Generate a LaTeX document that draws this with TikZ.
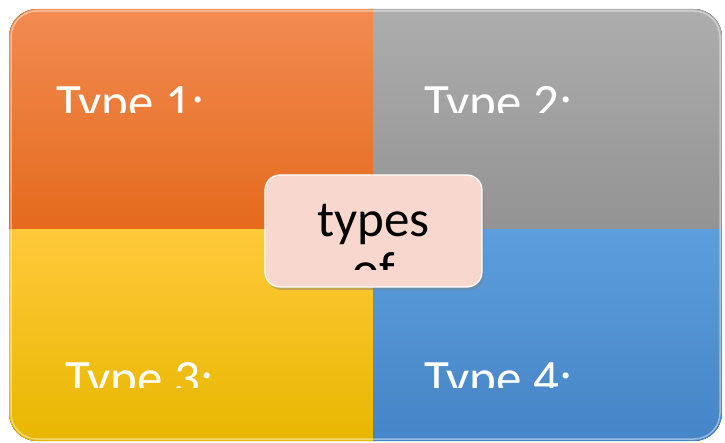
\documentclass[tikz,border=0pt]{standalone}
\usepackage{fontspec}
\setmainfont{Carlito}
\usetikzlibrary{shadows}

\definecolor{orangetop}{HTML}{F28B52}
\definecolor{orangebot}{HTML}{E46A1C}
\definecolor{greytop}{HTML}{ADADAD}
\definecolor{greybot}{HTML}{939393}
\definecolor{yellowtop}{HTML}{FFC93A}
\definecolor{yellowbot}{HTML}{E8B700}
\definecolor{bluetop}{HTML}{5C9EDD}
\definecolor{bluebot}{HTML}{4584C6}
\definecolor{centrefill}{HTML}{F8D8CE}

\begin{document}
\begin{tikzpicture}[x=1pt,y=-1pt,
  typelabel/.style={anchor=base west,inner sep=0pt,text=white,
    font=\fontsize{51}{61}\selectfont},
  centrelabel/.style={anchor=base,inner sep=0pt,text=black,
    font=\fontsize{51}{61}\selectfont},
  centrebox/.style={draw=white,line width=1.2pt,fill=centrefill,
    rounded corners=15pt,minimum width=217pt,minimum height=112pt,
    drop shadow={shadow xshift=2pt,shadow yshift=-3pt,opacity=.45}}]

\useasboundingbox (0,0) rectangle (725,443);

% quadrants
\begin{scope}
  \clip[rounded corners=28pt] (9,9) rectangle (722,441);
  \fill[top color=orangetop,bottom color=orangebot] (9,9) rectangle (373,230);
  \fill[top color=greytop,bottom color=greybot] (373,9) rectangle (722,230);
  \fill[top color=yellowtop,bottom color=yellowbot] (9,230) rectangle (373,441);
  \fill[top color=bluetop,bottom color=bluebot] (373,230) rectangle (722,441);
\end{scope}
\draw[white,opacity=.45,line width=1.5pt,rounded corners=26pt] (11,11) rectangle (720,439);

% labels
\begin{scope}
  \clip (9,9) rectangle (722,112.5);
  \node[typelabel] (type1) at (56,119.5) {Type 1:};
  \node[typelabel] (type2) at (424,119.5) {Type 2:};
\end{scope}
\begin{scope}
  \clip (9,230) rectangle (722,387.5);
  \node[typelabel] (type3) at (65,395) {Type 3:};
  \node[typelabel] (type4) at (424,395) {Type 4:};
\end{scope}

% centre
\node[centrebox] (centre) at (373.5,231) {};
\begin{scope}
  \clip (265,175) rectangle (482,270);
  \node[centrelabel] (types) at (373.5,237) {types};
  \node[centrelabel] (of) at (373.5,288) {of};
\end{scope}
\end{tikzpicture}
\end{document}
